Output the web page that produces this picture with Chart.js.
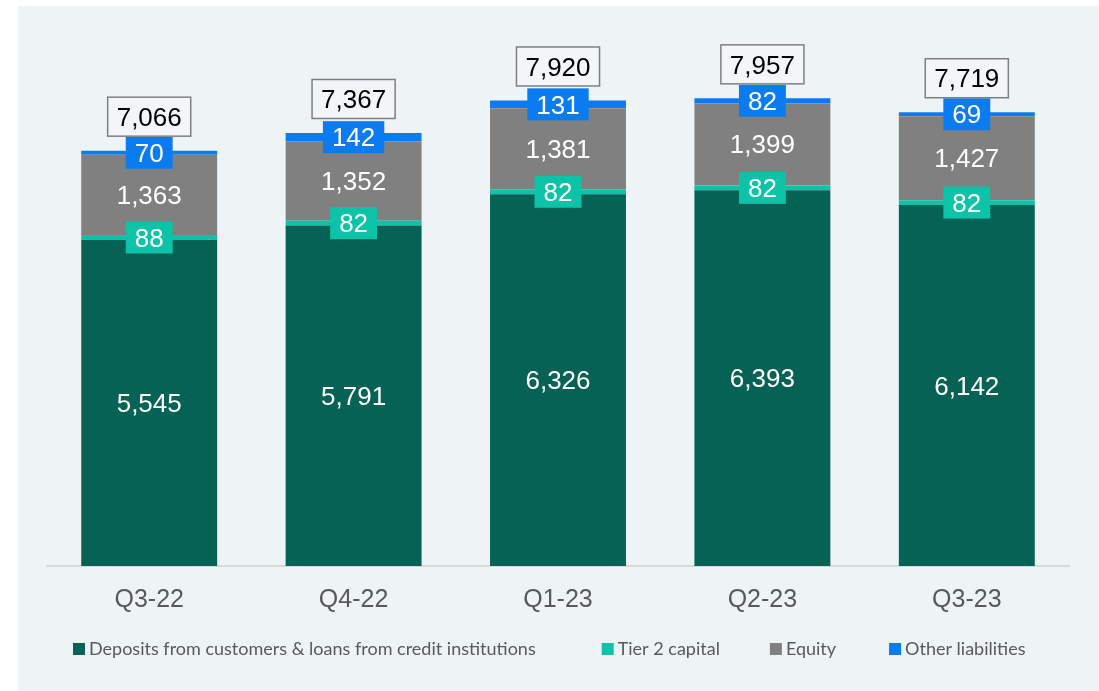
<!DOCTYPE html>
<html><head><meta charset="utf-8">
<script src="https://cdn.jsdelivr.net/npm/chart.js@4.4.0/dist/chart.umd.min.js"></script>
<style>
html,body{margin:0;padding:0;background:#ffffff;}
#panel{position:absolute;left:18px;top:6px;width:1081px;height:685px;background:#EEF3F6;}
#wrap{position:absolute;left:0;top:0;width:1099px;height:691px;}
</style></head><body>
<div id="panel"></div>
<div id="wrap"><canvas id="c" width="1099" height="691"></canvas></div>
<script>
const categories = ['Q3-22', 'Q4-22', 'Q1-23', 'Q2-23', 'Q3-23'];
const deposits = [5545, 5791, 6326, 6393, 6142];
const tier2 = [88, 82, 82, 82, 82];
const equity = [1363, 1352, 1381, 1399, 1427];
const otherLiabilities = [70, 142, 131, 82, 69];
const totals = [7066, 7367, 7920, 7957, 7719];
const seriesNames = ['Deposits from customers & loans from credit institutions', 'Tier 2 capital', 'Equity', 'Other liabilities'];
const seriesColors = ['#056254', '#0CC3A7', '#808080', '#0A7CF0'];
const boxedSeries = [false, true, false, true];

const LABEL_FONT = '26px "Liberation Sans", Arial, sans-serif';
const LEGEND_FONT = '18px Lato, "Noto Sans", sans-serif';
const fmt = v => v.toLocaleString('en-US');

const labelPlugin = {
  id: 'barLabels',
  afterDatasetsDraw(chart) {
    const ctx = chart.ctx;
    ctx.save();
    ctx.font = LABEL_FONT;
    ctx.textAlign = 'center';
    ctx.textBaseline = 'middle';
    [0, 2, 1, 3].forEach(ds => {
      const meta = chart.getDatasetMeta(ds);
      meta.data.forEach((el, i) => {
        const p = el.getProps(['x', 'y', 'base'], true);
        const cy = (p.y + p.base) / 2;
        const txt = fmt(chart.data.datasets[ds].data[i]);
        if (boxedSeries[ds]) {
          const w = ctx.measureText(txt).width + 18;
          ctx.fillStyle = seriesColors[ds];
          ctx.fillRect(p.x - w / 2, cy - 16, w, 32);
        }
        ctx.fillStyle = '#ffffff';
        ctx.fillText(txt, p.x, cy + 2);
      });
    });
    const topMeta = chart.getDatasetMeta(3);
    topMeta.data.forEach((el, i) => {
      const p = el.getProps(['x', 'y'], true);
      const txt = fmt(totals[i]);
      const w = ctx.measureText(txt).width + 18;
      const h = 39;
      const cy = p.y - 14.5 - h / 2;
      ctx.fillStyle = '#F3F6F8';
      ctx.fillRect(p.x - w / 2, cy - h / 2, w, h);
      ctx.strokeStyle = '#7F7F7F';
      ctx.lineWidth = 1.5;
      ctx.strokeRect(p.x - w / 2, cy - h / 2, w, h);
      ctx.fillStyle = '#000000';
      ctx.fillText(txt, p.x, cy + 2);
    });
    ctx.restore();
  }
};

// Legend drawn from the chart's own datasets (labels + colours)
const legendPlugin = {
  id: 'bottomLegend',
  afterDraw(chart) {
    const ctx = chart.ctx;
    const gaps = [66, 50, 53];
    const y = 649;
    ctx.save();
    ctx.font = LEGEND_FONT;
    ctx.textBaseline = 'middle';
    ctx.textAlign = 'left';
    let x = 73;
    chart.data.datasets.forEach((ds, k) => {
      ctx.fillStyle = ds.backgroundColor;
      ctx.fillRect(x, y - 6, 12, 12);
      ctx.fillStyle = '#595959';
      ctx.fillText(ds.label, x + 16, y);
      x += 16 + ctx.measureText(ds.label).width + (gaps[k] || 0);
    });
    ctx.restore();
  }
};

const seriesData = [deposits, tier2, equity, otherLiabilities];
new Chart(document.getElementById('c'), {
  type: 'bar',
  data: {
    labels: categories,
    datasets: seriesData.map((d, k) => ({
      label: seriesNames[k],
      data: d,
      backgroundColor: seriesColors[k],
      borderWidth: 0,
      categoryPercentage: 1,
      barPercentage: 0.665
    }))
  },
  options: {
    responsive: false,
    animation: false,
    layout: { padding: { top: 37, left: 47, right: 30, bottom: 57 } },
    scales: {
      x: {
        stacked: true,
        grid: { display: false, drawTicks: false },
        border: { display: true, color: '#D9D9D9', width: 2 },
        ticks: { color: '#595959', font: { family: '"Liberation Sans", Arial, sans-serif', size: 25 }, padding: 19 }
      },
      y: { stacked: true, display: false, min: 0, max: 9000 }
    },
    plugins: {
      legend: { display: false },
      tooltip: { enabled: false }
    }
  },
  plugins: [labelPlugin, legendPlugin]
});
</script>
</body></html>
